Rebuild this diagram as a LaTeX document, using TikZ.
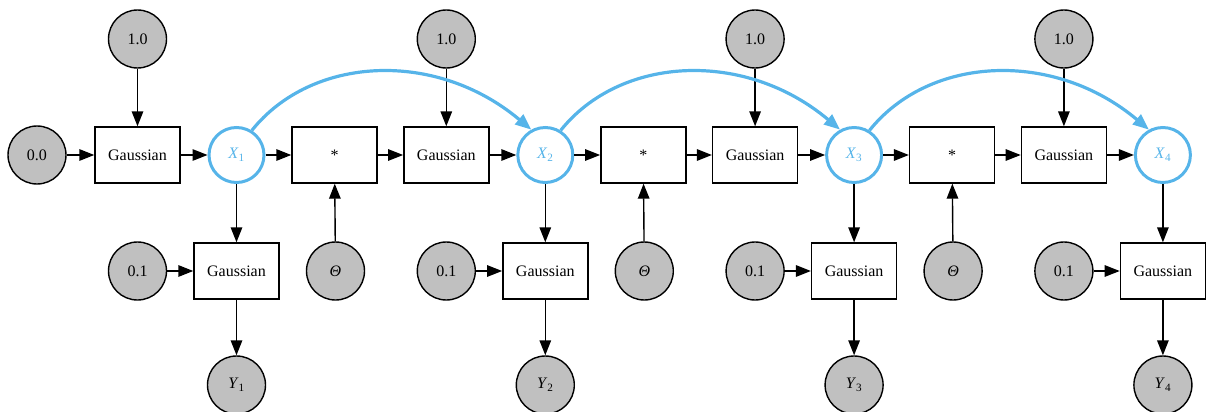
\documentclass[tikz,border=0pt]{standalone}
\usepackage{fontspec}
\setmainfont{Liberation Serif}
\usetikzlibrary{arrows.meta}
\usetikzlibrary{positioning}

\definecolor{constgray}{HTML}{C0C0C0}
\definecolor{latentblue}{HTML}{56B4E9}

\begin{document}
\begin{tikzpicture}[x=1pt, y=-1pt,
        every node/.style={font=\fontsize{16}{19}\selectfont},
        const/.style={circle, draw, line width=1.4pt, fill=constgray, minimum size=58pt, inner sep=0pt},
        latent/.style={circle, draw=latentblue, text=latentblue, line width=3pt, minimum size=55pt, inner sep=0pt},
        factor/.style={rectangle, draw, line width=1.4pt, minimum width=85pt, minimum height=56pt, inner sep=0pt},
        edge/.style={line width=1.4pt, -{Triangle[length=15pt,width=11.5pt]}},
        transition/.style={line width=3.2pt, draw=latentblue, -{Triangle[length=16pt,width=12.5pt]}}]
        \useasboundingbox (0,0) rectangle (1210,412);

        \node[const] (init-mean) at (37,155) {0.0};

        \foreach \i [evaluate=\i as \b using 137.5+(\i-1)*308.8] in {1,...,4} {
                \node[const] (prior-sd-\i) at (\b,39) {1.0};
                \node[factor] (step-gauss-\i) at (\b,155) {Gaussian};
                \node[latent] (x-\i) at (\b+99,155) {\textit{X}\textsubscript{\i}};
                \node[const] (obs-sd-\i) at (\b,271) {0.1};
                \node[factor] (obs-gauss-\i) at (\b+99,271) {Gaussian};
                \node[const] (y-\i) at (\b+99,385) {\textit{Y}\textsubscript{\i}};
                \ifnum\i<4
                        \node[factor] (mul-\i) at (\b+197,155) {*};
                        \node[const] (theta-\i) at (\b+198,271) {\textit{Θ}};
                        \draw[edge] (x-\i) -- (mul-\i);
                        \draw[edge] (theta-\i) -- (mul-\i);
                \fi
                \draw[edge] (prior-sd-\i) -- (step-gauss-\i);
                \draw[edge] (step-gauss-\i) -- (x-\i);
                \draw[edge] (x-\i) -- (obs-gauss-\i);
                \draw[edge] (obs-sd-\i) -- (obs-gauss-\i);
                \draw[edge] (obs-gauss-\i) -- (y-\i);
        }
        \draw[edge] (init-mean) -- (step-gauss-1);

        % mean of the next step, and the carried-over state
        \foreach \i/\j in {1/2, 2/3, 3/4} {
                \draw[edge] (mul-\i) -- (step-gauss-\j);
                \draw[transition] (x-\i.58) .. controls +(60,-75) and +(-95,-80) .. (x-\j.119);
        }
\end{tikzpicture}
\end{document}
